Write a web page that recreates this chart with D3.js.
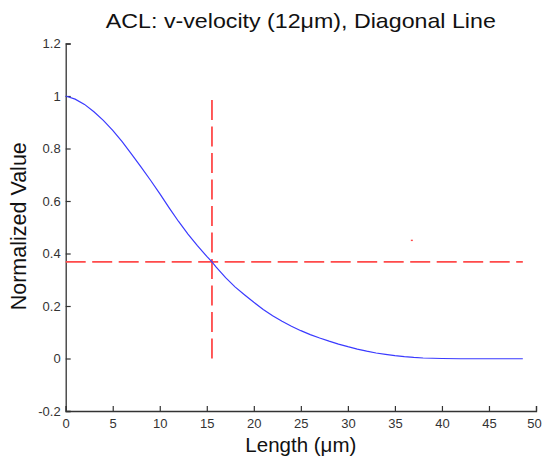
<!DOCTYPE html>
<html>
<head>
<meta charset="utf-8">
<script src="https://cdn.jsdelivr.net/npm/d3@7"></script>
<style>
  html, body { margin: 0; padding: 0; background: #fff; }
  svg text { font-family: "Liberation Sans", Arial, sans-serif; }
</style>
</head>
<body>
<svg id="chart" width="542" height="460"></svg>
<script>
// Profile along the diagonal line: length (µm) vs normalized v-velocity
const lengthUm = [0, 1, 2, 3, 4, 5, 6, 7, 8, 9, 10, 11, 12, 13, 14, 15, 15.55, 16, 17, 18, 19, 20,
  21, 22, 23, 24, 25, 26, 27, 28, 29, 30, 31, 32, 33, 34, 35, 36, 37, 38, 39, 40, 42, 44, 46, 48.6];
const normValue = [1.0, 0.988, 0.968, 0.940, 0.907, 0.869, 0.826, 0.779, 0.730, 0.680, 0.628, 0.574,
  0.522, 0.474, 0.430, 0.389, 0.368, 0.348, 0.308, 0.273, 0.243, 0.214, 0.187, 0.163, 0.142, 0.123,
  0.106, 0.091, 0.078, 0.066, 0.055, 0.045, 0.036, 0.028, 0.021, 0.016, 0.011, 0.007, 0.004, 0.002,
  0.001, 0.0, -0.001, -0.001, -0.001, -0.001];

// 1/e decay markers
const decayLevel = [0.3679];
const decayLength = [15.55];
const levelSpan = [0, 48.6];
const lengthSpan = [0, 1];
const strayMark = [[36.8, 0.45]];

const xTicks = [0, 5, 10, 15, 20, 25, 30, 35, 40, 45, 50];
const yTicks = [-0.2, 0, 0.2, 0.4, 0.6, 0.8, 1, 1.2];

const svg = d3.select("#chart");
const margin = { left: 65.7, right: 6, top: 43.5, bottom: 49 };
const W = 542, H = 460;

const x = d3.scaleLinear().domain([0, 50]).range([margin.left, W - margin.right]);
const y = d3.scaleLinear().domain([-0.2, 1.2]).range([H - margin.bottom, margin.top]);

const axisColor = "#333";

// Axes with inward ticks
const xAxis = svg.append("g")
  .attr("transform", `translate(0,${y(-0.2)})`)
  .call(d3.axisBottom(x).tickValues(xTicks).tickSize(-5).tickPadding(8).tickFormat(d3.format("d")));
const yAxis = svg.append("g")
  .attr("transform", `translate(${x(0)},0)`)
  .call(d3.axisLeft(y).tickValues(yTicks).tickSize(-5).tickPadding(5)
    .tickFormat(d => d === 0 ? "0" : String(Math.round(d * 10) / 10)));

[xAxis, yAxis].forEach(g => {
  g.select(".domain").attr("stroke", axisColor).attr("stroke-width", 1.3);
  g.selectAll(".tick line").attr("stroke", axisColor).attr("stroke-width", 1.2);
  g.selectAll(".tick text").attr("fill", "#333").style("font-size", "13px")
    .style("font-family", "'Liberation Sans', Arial, sans-serif");
});
// keep the last x label inside the frame
xAxis.selectAll(".tick text").filter(d => d === 50).attr("dx", "-2px");

// Reference lines (red dashed)
const red = "#ff4a4a";
svg.append("line")
  .attr("x1", x(levelSpan[0])).attr("x2", x(levelSpan[1]))
  .attr("y1", y(decayLevel[0])).attr("y2", y(decayLevel[0]))
  .attr("stroke", red).attr("stroke-width", 1.8).attr("stroke-dasharray", "20,6.5");
svg.append("line")
  .attr("x1", x(decayLength[0])).attr("x2", x(decayLength[0]))
  .attr("y1", y(lengthSpan[0])).attr("y2", y(lengthSpan[1]))
  .attr("stroke", red).attr("stroke-width", 1.8).attr("stroke-dasharray", "20,6.5");

svg.selectAll("rect.stray").data(strayMark).enter().append("rect")
  .attr("class", "stray")
  .attr("x", d => x(d[0]) - 1).attr("y", d => y(d[1]) - 0.7)
  .attr("width", 2).attr("height", 1.4).attr("fill", red);

// Velocity profile
const pts = lengthUm.map((d, i) => [d, normValue[i]]);
svg.append("path")
  .datum(pts)
  .attr("fill", "none")
  .attr("stroke", "#3a3aff")
  .attr("stroke-width", 1.2)
  .attr("d", d3.line().x(d => x(d[0])).y(d => y(d[1])));

// Titles
svg.append("text")
  .attr("x", (x(0) + x(50)) / 2).attr("y", 27.5)
  .attr("text-anchor", "middle")
  .attr("textLength", 390).attr("lengthAdjust", "spacingAndGlyphs")
  .style("font-size", "21px").attr("fill", "#111")
  .text("ACL: v-velocity (12\u03bcm), Diagonal Line");

svg.append("text")
  .attr("x", (x(0) + x(50)) / 2).attr("y", 451.5)
  .attr("text-anchor", "middle")
  .style("font-size", "20.5px").attr("fill", "#111")
  .text("Length (\u03bcm)");

svg.append("text")
  .attr("transform", `translate(25.5,${(y(-0.2) + y(1.2)) / 2 - 1}) rotate(-90)`)
  .attr("text-anchor", "middle")
  .style("font-size", "21.5px").attr("fill", "#111")
  .text("Normalized Value");
</script>
</body>
</html>
